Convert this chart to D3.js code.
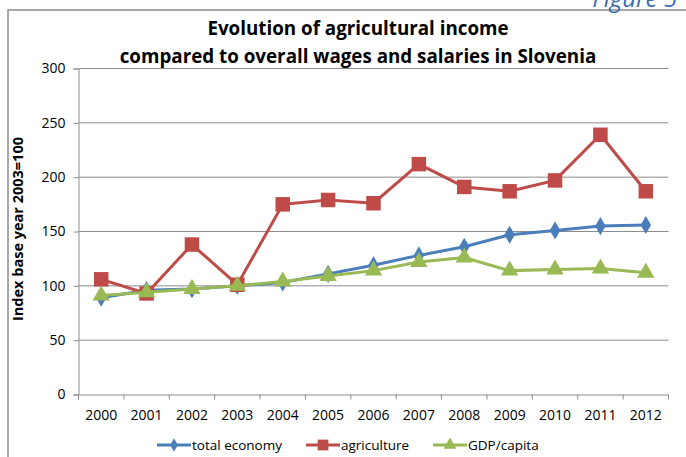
<!DOCTYPE html>
<html>
<head>
<meta charset="utf-8">
<title>Agricultural income Slovenia</title>
<script src="https://d3js.org/d3.v7.min.js"></script>
<style>
  body {margin: 0; background: #fff;}
  svg text {font-family: "Open Sans", sans-serif;}
</style>
</head>
<body>
<script>
// data
const years = ["2000","2001","2002","2003","2004","2005","2006","2007","2008","2009","2010","2011","2012"];
const totalEconomy = [89, 96, 97, 100, 103, 111, 119, 128, 136, 147, 151, 155, 156];
const agriculture = [106, 93, 138, 101, 175, 179, 176, 212, 191, 187, 197, 239, 187];
const gdpCapita = [91, 94, 97, 100, 104, 109, 114, 122, 126, 114, 115, 116, 112];
const yTicks = [0, 50, 100, 150, 200, 250, 300];

const width = 686, height = 457;
const svg = d3.select("body").append("svg")
  .attr("width", width).attr("height", height);

// frame
svg.append("rect")
  .attr("x", 8).attr("y", 10)
  .attr("width", 700).attr("height", 460)
  .attr("fill", "none").attr("stroke", "#8c8c8c").attr("stroke-width", 1.5);

// figure label (cut at top)
svg.append("text")
  .attr("x", 677).attr("y", 7)
  .attr("text-anchor", "end")
  .style("font-style", "italic")
  .style("font-size", "24px")
  .attr("fill", "#3b6db3")
  .text("Figure 5");

const x0 = 78.5, x1 = 668.5, y0 = 394.5, y1 = 68.5;

const x = d3.scaleBand().domain(years).range([x0, x1]);
const y = d3.scaleLinear().domain([0, 300]).range([y0, y1]);

// gridlines
svg.append("g").selectAll("line")
  .data(yTicks.filter(d => d > 0))
  .join("line")
  .attr("x1", x0).attr("x2", x1)
  .attr("y1", d => y(d)).attr("y2", d => y(d))
  .attr("stroke", "#8c8c8c").attr("stroke-width", 1);

// y axis
const yAxis = svg.append("g")
  .attr("transform", `translate(${x0},0)`)
  .call(d3.axisLeft(y).tickValues(yTicks).tickSize(5).tickPadding(8));
yAxis.select(".domain").attr("stroke", "#8c8c8c");
yAxis.selectAll(".tick line").attr("stroke", "#8c8c8c");
yAxis.selectAll("text").style("font-size", "14px").attr("fill", "#000");

// x axis
const xAxis = svg.append("g")
  .attr("transform", `translate(0,${y0})`)
  .call(d3.axisBottom(x).tickSize(0).tickPadding(16));
xAxis.select(".domain").attr("stroke", "#8c8c8c");
xAxis.selectAll("text").style("font-size", "14px").attr("fill", "#000");
// tick marks between categories
svg.append("g").selectAll("line")
  .data(d3.range(years.length + 1))
  .join("line")
  .attr("x1", i => x0 + i * x.step()).attr("x2", i => x0 + i * x.step())
  .attr("y1", y0).attr("y2", y0 + 5)
  .attr("stroke", "#8c8c8c");

// y axis title
svg.append("text")
  .attr("transform", "translate(23,229) rotate(-90)")
  .attr("text-anchor", "middle")
  .style("font-size", "14.5px").style("font-weight", "bold")
  .text("Index base year 2003=100");

// title
svg.append("text")
  .attr("x", 358).attr("y", 35)
  .attr("text-anchor", "middle")
  .style("font-size", "18.8px").style("font-weight", "bold")
  .text("Evolution of agricultural income");
svg.append("text")
  .attr("x", 358).attr("y", 63)
  .attr("text-anchor", "middle")
  .style("font-size", "18.8px").style("font-weight", "bold")
  .text("compared to overall wages and salaries in Slovenia");

const cx = d => x(d) + x.bandwidth() / 2;
const series = [
  {name: "total economy", values: totalEconomy, color: "#4a7ebb", marker: d3.symbolDiamond, size: 95},
  {name: "agriculture", values: agriculture, color: "#be4b48", marker: d3.symbolSquare, size: 210},
  {name: "GDP/capita", values: gdpCapita, color: "#98b954", marker: d3.symbolTriangle, size: 130}
];

const line = d3.line().x((d, i) => cx(years[i])).y(d => y(d));

series.forEach(s => {
  svg.append("path")
    .datum(s.values)
    .attr("d", line)
    .attr("fill", "none")
    .attr("stroke", s.color)
    .attr("stroke-width", 3);
  svg.append("g").selectAll("path")
    .data(s.values)
    .join("path")
    .attr("transform", (d, i) => `translate(${cx(years[i])},${y(d)})`)
    .attr("d", d3.symbol().type(s.marker).size(s.size))
    .attr("fill", s.color);
});

// legend
const legendX = [157, 306, 433];
series.forEach((s, i) => {
  const g = svg.append("g").attr("transform", `translate(${legendX[i]},445)`);
  g.append("line").attr("x1", 0).attr("x2", 34)
    .attr("stroke", s.color).attr("stroke-width", 3);
  g.append("path").attr("transform", "translate(17,0)")
    .attr("d", d3.symbol().type(s.marker).size(s.size * 0.55))
    .attr("fill", s.color);
  g.append("text").attr("x", 35).attr("y", 5)
    .style("font-size", "13.5px")
    .text(s.name);
});
</script>
</body>
</html>
